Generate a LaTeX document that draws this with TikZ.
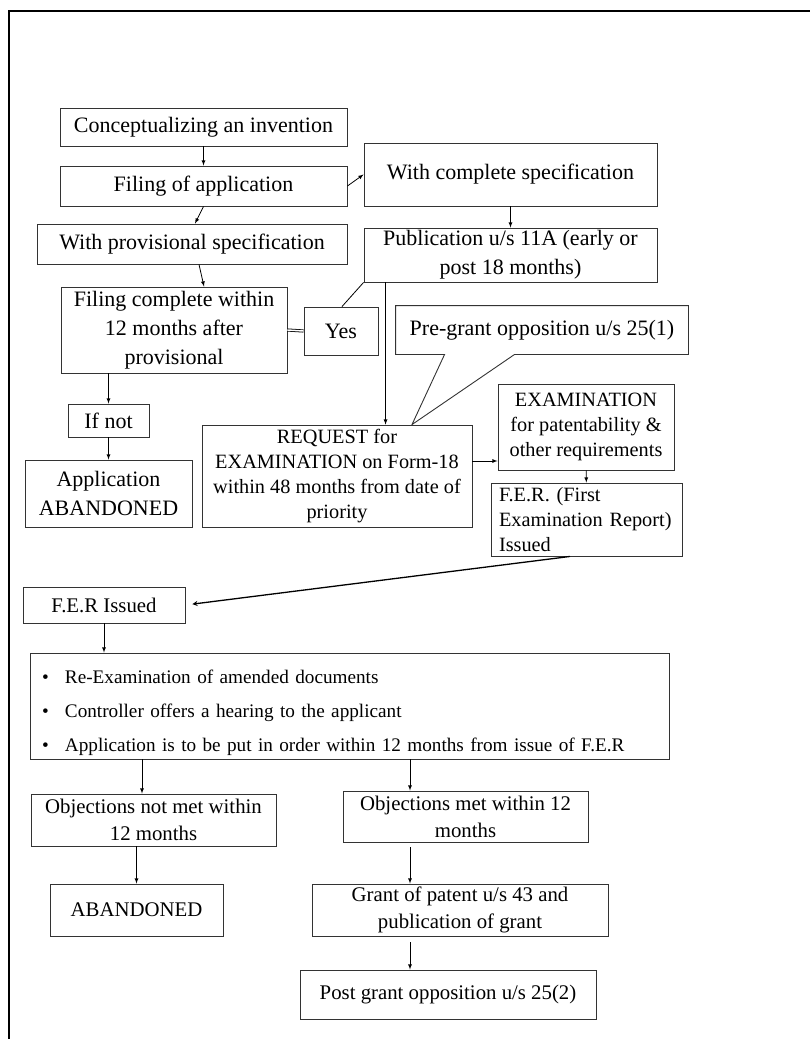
\documentclass[tikz,border=0pt]{standalone}
\usepackage{fontspec}
\setmainfont{Liberation Serif}
\usetikzlibrary{arrows}

\newcommand{\bigtext}{\fontsize{22}{29}\selectfont}
\newcommand{\midtext}{\fontsize{20.3}{25}\selectfont}
\newcommand{\lowtext}{\fontsize{20.8}{27}\selectfont}
\newcommand{\listtext}{\fontsize{19.2}{26}\selectfont}
\newcommand{\bul}{\makebox[23pt][l]{\textbullet}}

\begin{document}
\begin{tikzpicture}
  [
    x=1pt, y=-1pt,
    box/.style={draw=black!80, line width=0.9pt, align=center, inner sep=2pt, font=\bigtext},
    rim/.style={draw=black!80, line width=0.9pt},
    flow/.style={-latex, line width=0.8pt},
    plain/.style={line width=0.8pt}
  ]
  \useasboundingbox (0,0) rectangle (810,1039);
  % frame
  \draw [line width=1.4pt] (9,1039) -- (9,11) -- (810,11);

  % filing
  \node [box, minimum width=287pt, minimum height=38pt] (concept) at (203.5,127) {Conceptualizing an invention};
  \node [box, minimum width=287pt, minimum height=40pt] (filing) at (203.5,186) {Filing of application};
  \node [box, minimum width=310pt, minimum height=40pt] (prov) at (192,244) {With provisional specification};
  \node [box, minimum width=293pt, minimum height=63pt] (compl) at (510.5,174.5) {With complete specification};
  \node [box, minimum width=293pt, minimum height=54pt] (publ) at (510.5,255) {Publication u/s 11A (early or\\post 18 months)};
  \node [box, minimum width=226pt, minimum height=86pt] (within) at (174,330) {Filing complete within\\12 months after\\provisional};
  \node [box, minimum width=74pt, minimum height=48pt] (yes) at (341,331) {Yes};
  \node [box, draw=none, minimum width=292pt, minimum height=48pt] (pregrant) at (542,330) {Pre-grant opposition u/s 25(1)};
  \node [box, minimum width=81pt, minimum height=33pt] (ifnot) at (108.5,420.5) {If not};
  \node [box, minimum width=167pt, minimum height=67pt] (appab) at (108.5,493.5) {Application\\ABANDONED};

  % examination
  \node [box, font=\midtext, minimum width=270pt, minimum height=102pt] (req) at (337,476) {REQUEST for\\EXAMINATION on Form-18\\within 48 months from date of\\priority};
  \node [box, font=\midtext, minimum width=176pt, minimum height=86pt] (exam) at (586,427) {EXAMINATION\\for patentability \&\\other requirements};
  \node [box, font=\midtext, align=left, text width=175pt, minimum width=191pt, minimum height=73pt] (fer) at (586.5,519.5) {F.E.R. (First\\Examination Report)\\Issued};

  % after F.E.R
  \node [box, font=\lowtext, minimum width=162pt, minimum height=36pt] (feri) at (104,605) {F.E.R Issued};
  \node [box, font=\listtext, align=left, text width=615pt, minimum width=639pt, minimum height=106pt] (redo) at (349.5,706)
    {\rule{0pt}{28pt}\bul Re-Examination of amended documents\\[8pt]
     \bul Controller offers a hearing to the applicant\\[8pt]
     \bul Application is to be put in order within 12 months from issue of F.E.R};
  \node [box, font=\lowtext, minimum width=245pt, minimum height=52pt] (notmet) at (153.5,820) {Objections not met within\\12 months};
  \node [box, font=\lowtext, minimum width=245pt, minimum height=51pt] (met) at (465.5,816.5) {Objections met within 12\\months};
  \node [box, font=\lowtext, minimum width=173pt, minimum height=52pt] (aband) at (136.5,910) {ABANDONED};
  \node [box, font=\lowtext, minimum width=296pt, minimum height=52pt] (grant) at (460,910) {Grant of patent u/s 43 and\\publication of grant};
  \node [box, font=\lowtext, minimum width=296pt, minimum height=49pt] (post) at (448,994.5) {Post grant opposition u/s 25(2)};

  % callout
  \coordinate (tip) at ([xshift=75pt]req.north);
  \draw [rim] (pregrant.north west) -- (pregrant.north east) -- (pregrant.south east)
    -- ([xshift=119pt]pregrant.south west) -- (tip) -- ([xshift=49pt]pregrant.south west)
    -- (pregrant.south west) -- cycle;

  % upper links
  \draw [flow] (concept) -- (filing);
  \draw [flow] (filing.east) -- (compl.west);
  \draw [flow] (filing.south) -- ([xshift=3pt]prov.north);
  \draw [flow] ([xshift=7pt]prov.south) -- ([xshift=30pt]within.north);
  \draw [flow] (compl) -- (publ);
  \draw [plain, double, double distance=1.5pt] (within.east) -- (yes.west);
  \draw [plain] ([xshift=1pt]yes.north) -- (publ.south west);
  \draw [flow] ([xshift=22pt]publ.south west) -- ([xshift=22pt]publ.south west |- req.north);
  \draw [flow] (within.south -| ifnot) -- (ifnot);
  \draw [flow] (ifnot) -- (appab);
  \draw [flow] ([yshift=15pt]req.east) -- ([yshift=15pt]req.east -| exam.west);
  \draw [flow] (exam) -- (fer);
  \draw [-stealth, line width=1.3pt, shorten >=7pt] ([xshift=-16.5pt]fer.south) -- (feri.east);

  % lower links
  \draw [flow] (feri.south) -- (feri.south |- redo.north);
  \draw [flow] ([xshift=-11.5pt]notmet.north |- redo.south) -- ([xshift=-11.5pt]notmet.north);
  \draw [flow] (notmet.south -| aband) -- (aband);
  \draw [flow] ([xshift=-55.5pt]met.north |- redo.south) -- ([xshift=-55.5pt]met.north);
  \draw [flow, shorten <=5pt] ([xshift=-50pt]grant.north |- met.south) -- ([xshift=-50pt]grant.north);
  \draw [flow, shorten <=6pt] ([xshift=-38pt]post.north |- grant.south) -- ([xshift=-38pt]post.north);
\end{tikzpicture}
\end{document}
